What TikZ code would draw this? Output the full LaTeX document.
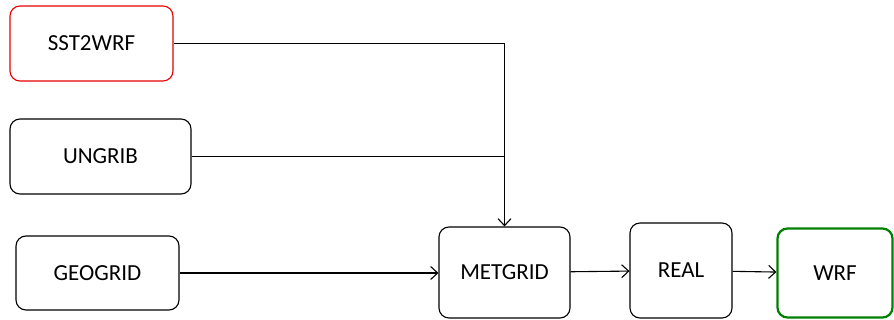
\documentclass[tikz,border=0pt]{standalone}
\usepackage{fontspec}
\setmainfont{Carlito}
\usepackage{tikz}
\usetikzlibrary{arrows.meta}

\begin{document}
\begin{tikzpicture}[x=1pt,y=-1pt]
        \tikzstyle{block} = [draw, rounded corners=10pt, line width=1.1pt, inner sep=0pt, font=\fontsize{23}{27}\selectfont]
        \tikzstyle{link} = [line width=1.1pt, -{Straight Barb[length=7pt,width=13pt]}]
        \useasboundingbox (0,0) rectangle (894,320);
        \node[block, red!90!black, text=black, minimum width=163pt, minimum height=75pt] (sst) at (91.5,43.5) {SST2WRF};
        \node[block, minimum width=181pt, minimum height=75pt] (ungrib) at (100.5,156.5) {UNGRIB};
        \node[block, minimum width=163pt, minimum height=74pt] (geogrid) at (97.5,273) {GEOGRID};
        \node[block, minimum width=131pt, minimum height=91pt] (metgrid) at (504.5,272.5) {METGRID};
        \node[block, minimum width=102pt, minimum height=95pt] (real) at (681,270.5) {REAL};
        \node[block, draw=green!50!black, line width=2.2pt, minimum width=115pt, minimum height=89pt] (wrf) at (835,273) {WRF};
        % connectors
        \draw[link] (sst.east) -| (metgrid.north);
        \draw[line width=1.1pt] (ungrib.east) -- (ungrib.east -| metgrid.north);
        \draw[link] (geogrid.east) -- (geogrid.east -| metgrid.west);
        \draw[link] (metgrid) -- (real);
        \draw[link] (real) -- (wrf);
       \end{tikzpicture}
\end{document}
